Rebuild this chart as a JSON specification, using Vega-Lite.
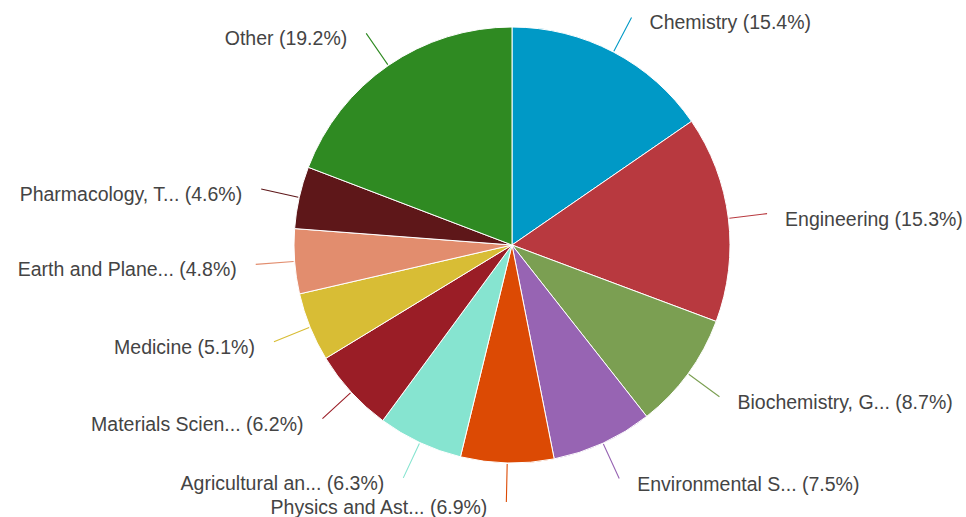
{
  "$schema": "https://vega.github.io/schema/vega-lite/v6.json",
  "autosize": {"type": "none"},
  "width": 600,
  "height": 490,
  "padding": {"left": 212, "top": 0, "right": 154, "bottom": 27},
  "background": "white",
  "config": {"view": {"stroke": null}},
  "data": {
    "values": [
      {"order": 1, "name": "Chemistry", "value": 15.4},
      {"order": 2, "name": "Engineering", "value": 15.3},
      {"order": 3, "name": "Biochemistry, G...", "value": 8.7},
      {"order": 4, "name": "Environmental S...", "value": 7.5},
      {"order": 5, "name": "Physics and Ast...", "value": 6.9},
      {"order": 6, "name": "Agricultural an...", "value": 6.3},
      {"order": 7, "name": "Materials Scien...", "value": 6.2},
      {"order": 8, "name": "Medicine", "value": 5.1},
      {"order": 9, "name": "Earth and Plane...", "value": 4.8},
      {"order": 10, "name": "Pharmacology, T...", "value": 4.6},
      {"order": 11, "name": "Other", "value": 19.2}
    ]
  },
  "transform": [
    {"stack": "value", "groupby": [], "sort": [{"field": "order", "order": "ascending"}], "as": ["v0", "v1"]},
    {"calculate": "(datum.v0 + datum.v1) / 2", "as": "mid"},
    {"calculate": "datum.name + ' (' + format(datum.value, '.1f') + '%)'", "as": "label"}
  ],
  "encoding": {
    "color": {
      "field": "name",
      "type": "nominal",
      "legend": null,
      "scale": {
        "domain": ["Chemistry", "Engineering", "Biochemistry, G...", "Environmental S...", "Physics and Ast...", "Agricultural an...", "Materials Scien...", "Medicine", "Earth and Plane...", "Pharmacology, T...", "Other"],
        "range": ["#0099c6", "#b8393f", "#7b9f52", "#9764b3", "#dc4a04", "#86e4d0", "#9a1d26", "#d8bd35", "#e28d6e", "#5e1719", "#2f8a22"]
      }
    }
  },
  "layer": [
    {
      "mark": {"type": "arc", "outerRadius": 218, "stroke": "white", "strokeWidth": 1},
      "encoding": {
        "theta": {"field": "v0", "type": "quantitative", "scale": {"domain": [0, 100]}},
        "theta2": {"field": "v1"}
      }
    },
    {
      "mark": {"type": "arc", "innerRadius": 219, "outerRadius": 257, "fill": null, "strokeWidth": 1.1},
      "encoding": {
        "theta": {"field": "mid", "type": "quantitative", "scale": {"domain": [0, 100]}},
        "theta2": {"field": "mid"},
        "stroke": {"field": "name", "type": "nominal", "legend": null,
          "scale": {
            "domain": ["Chemistry", "Engineering", "Biochemistry, G...", "Environmental S...", "Physics and Ast...", "Agricultural an...", "Materials Scien...", "Medicine", "Earth and Plane...", "Pharmacology, T...", "Other"],
            "range": ["#0099c6", "#b8393f", "#7b9f52", "#9764b3", "#dc4a04", "#86e4d0", "#9a1d26", "#d8bd35", "#e28d6e", "#5e1719", "#2f8a22"]
          }
        }
      }
    },
    {
      "transform": [{"filter": "datum.mid < 50"}],
      "mark": {"type": "text", "radius": 257, "align": "left", "baseline": "middle", "dx": 18, "dy": 6, "font": "Liberation Sans", "fontSize": 19.5, "color": "#444444"},
      "encoding": {
        "theta": {"field": "mid", "type": "quantitative", "scale": {"domain": [0, 100]}},
        "text": {"field": "label"},
        "color": {"value": "#444444"}
      }
    },
    {
      "transform": [{"filter": "datum.mid >= 50"}],
      "mark": {"type": "text", "radius": 257, "align": "right", "baseline": "middle", "dx": -19, "dy": 6, "font": "Liberation Sans", "fontSize": 19.5, "color": "#444444"},
      "encoding": {
        "theta": {"field": "mid", "type": "quantitative", "scale": {"domain": [0, 100]}},
        "text": {"field": "label"},
        "color": {"value": "#444444"}
      }
    }
  ]
}
